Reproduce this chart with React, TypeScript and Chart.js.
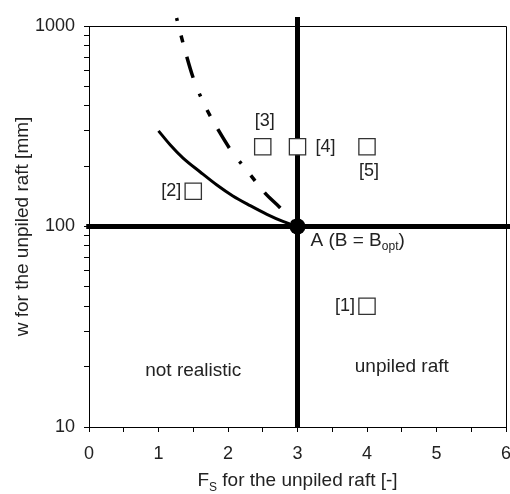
import { useEffect, useRef } from "react";
import { Chart, registerables } from "chart.js";

Chart.register(...registerables);

// Limit curves in the (F_S, w) plane
const solidX = [1.0, 1.17, 1.35, 1.6, 1.84, 2.07, 2.32, 2.56, 2.79, 3.0];
const solidY = [300, 255, 220, 187, 161, 142, 127, 115, 106, 100];
const dashDotX = [1.26, 1.38, 1.5, 1.67, 1.86, 2.06, 2.29, 2.53, 2.75, 3.0];
const dashDotY = [1096, 759, 550, 399, 303, 235, 187, 147, 124, 100];

// Cases [1]..[5]
const caseX = [4, 1.5, 2.5, 3, 4];
const caseY = [40, 150, 250, 250, 250];
const caseLabels = ["[1]", "[2]", "[3]", "[4]", "[5]"];
const caseLabelSide = ["left", "left", "above", "right", "below"];

// Optimum point A and the two reference lines through it
const optimumX = 3;
const optimumY = 100;

// Region captions
const regionNames = ["not realistic", "unpiled raft"];
const regionX = [1.5, 4.5];
const regionY = [19, 20];

// Axes
const xMin = 0;
const xMax = 6;
const yMin = 10;
const yMax = 1000;
const yMinorTicks = [10, 20, 30, 40, 50, 60, 70, 80, 90, 100, 200, 300, 400, 500, 600, 700, 800, 900, 1000];
const yTickLabels = [10, 100, 1000];

const FONT = "'Liberation Sans', Arial, Helvetica, sans-serif";
const TEXT = "#222";

type Part = [string, boolean?];

function drawRich(ctx: CanvasRenderingContext2D, parts: Part[], x: number, y: number, size: number, align: "left" | "center" | "right") {
  const subSize = Math.round(size * 0.65);
  const widths = parts.map(([t, sub]) => {
    ctx.font = `${sub ? subSize : size}px ${FONT}`;
    return ctx.measureText(t).width;
  });
  const total = widths.reduce((a, b) => a + b, 0);
  let cx = align === "left" ? x : align === "center" ? x - total / 2 : x - total;
  ctx.textAlign = "left";
  ctx.textBaseline = "middle";
  parts.forEach(([t, sub], i) => {
    ctx.font = `${sub ? subSize : size}px ${FONT}`;
    ctx.fillText(t, cx, sub ? y + size * 0.35 : y);
    cx += widths[i];
  });
}

const frameAndText = {
  id: "frameAndText",
  beforeDatasetsDraw(chart: any) {
    const { ctx, chartArea } = chart;
    ctx.save();
    ctx.strokeStyle = "#000";
    ctx.lineWidth = 1;
    ctx.beginPath();
    ctx.moveTo(chartArea.left, chartArea.top + 0.5);
    ctx.lineTo(chartArea.right + 0.5, chartArea.top + 0.5);
    ctx.lineTo(chartArea.right + 0.5, chartArea.bottom);
    ctx.stroke();
    ctx.restore();
  },
  afterDatasetsDraw(chart: any) {
    const { ctx, chartArea } = chart;
    const xs = chart.scales.x;
    const ys = chart.scales.y;
    ctx.save();
    ctx.fillStyle = TEXT;

    // region captions
    regionNames.forEach((name, i) => {
      drawRich(ctx, [[name]], xs.getPixelForValue(regionX[i]), ys.getPixelForValue(regionY[i]), 19, "center");
    });

    // case labels next to the squares
    caseLabels.forEach((lab, i) => {
      const px = xs.getPixelForValue(caseX[i]);
      const py = ys.getPixelForValue(caseY[i]);
      const side = caseLabelSide[i];
      if (side === "left") drawRich(ctx, [[lab]], px - 12, py, 18, "right");
      else if (side === "right") drawRich(ctx, [[lab]], px + 18, py, 18, "left");
      else if (side === "above") drawRich(ctx, [[lab]], px + 2, py - 26, 18, "center");
      else drawRich(ctx, [[lab]], px + 2, py + 24, 18, "center");
    });

    // optimum label
    const ax = xs.getPixelForValue(optimumX);
    const ay = ys.getPixelForValue(optimumY);
    drawRich(ctx, [["A (B = B"], ["opt", true], [")"]], ax + 13, ay + 14, 19, "left");

    // axis titles
    const cxMid = (chartArea.left + chartArea.right) / 2;
    drawRich(ctx, [["F"], ["S", true], [" for the unpiled raft [-]"]], cxMid, chartArea.bottom + 54, 19, "center");

    const cyMid = (chartArea.top + chartArea.bottom) / 2;
    ctx.translate(23, cyMid);
    ctx.rotate(-Math.PI / 2);
    drawRich(ctx, [["w for the unpiled raft [mm]"]], 0, 0, 19, "center");
    ctx.restore();
  },
};

export default function App() {
  const canvasRef = useRef<HTMLCanvasElement | null>(null);

  useEffect(() => {
    const canvas = canvasRef.current;
    if (!canvas) return;

    const toPoints = (xs: number[], ys: number[]) => xs.map((x, i) => ({ x, y: ys[i] }));

    const chart = new Chart(canvas, {
      type: "scatter",
      data: {
        datasets: [
          {
            data: toPoints(caseX, caseY),
            pointStyle: "rect",
            pointRadius: 11.5,
            pointHoverRadius: 11.5,
            backgroundColor: "#fff",
            borderColor: "#333",
            borderWidth: 1.3,
            order: 0,
          },
          {
            data: [{ x: optimumX, y: optimumY }],
            pointRadius: 8,
            pointHoverRadius: 8,
            backgroundColor: "#000",
            borderColor: "#000",
            borderWidth: 0,
            order: 1,
          },
          {
            data: toPoints(solidX, solidY),
            showLine: true,
            borderColor: "#000",
            borderWidth: 3,
            pointRadius: 0,
            pointHoverRadius: 0,
            cubicInterpolationMode: "monotone",
            order: 2,
          },
          {
            data: toPoints(dashDotX, dashDotY),
            showLine: true,
            borderColor: "#000",
            borderWidth: 3.5,
            borderDash: [3, 15, 7, 15, 22, 17],
            pointRadius: 0,
            pointHoverRadius: 0,
            cubicInterpolationMode: "monotone",
            clip: false,
            order: 2,
          },
          {
            // horizontal reference line w = 100 mm
            data: [
              { x: -0.04, y: optimumY },
              { x: 6.1, y: optimumY },
            ],
            showLine: true,
            borderColor: "#000",
            borderWidth: 5,
            pointRadius: 0,
            pointHoverRadius: 0,
            clip: false,
            order: 3,
          },
          {
            // vertical reference line F_S = 3
            data: [
              { x: optimumX, y: yMin },
              { x: optimumX, y: 1110 },
            ],
            showLine: true,
            borderColor: "#000",
            borderWidth: 5,
            pointRadius: 0,
            pointHoverRadius: 0,
            clip: false,
            order: 3,
          },
        ],
      },
      options: {
        responsive: false,
        animation: false,
        events: [],
        layout: { autoPadding: false, padding: { top: 26, right: 4, left: 0, bottom: 0 } },
        plugins: {
          legend: { display: false },
          tooltip: { enabled: false },
        },
        scales: {
          x: {
            type: "linear",
            min: xMin,
            max: xMax,
            afterFit(scale: any) {
              scale.height = 67;
              scale.paddingLeft = 0;
              scale.paddingRight = 0;
            },
            ticks: {
              stepSize: 0.5,
              autoSkip: false,
              maxRotation: 0,
              padding: 11,
              color: TEXT,
              font: { family: FONT, size: 18 },
              callback: (v: any) => (Number.isInteger(v) ? String(v) : ""),
            },
            grid: {
              drawOnChartArea: false,
              drawTicks: true,
              tickLength: 5,
              tickColor: "#000",
              tickWidth: 1,
            },
            border: { display: true, color: "#000", width: 1 },
          },
          y: {
            type: "logarithmic",
            min: yMin,
            max: yMax,
            afterFit(scale: any) {
              scale.width = 89;
              scale.paddingTop = 0;
              scale.paddingBottom = 0;
            },
            afterBuildTicks(scale: any) {
              scale.ticks = yMinorTicks.map((value) => ({ value }));
            },
            ticks: {
              autoSkip: false,
              padding: 9,
              color: TEXT,
              font: { family: FONT, size: 18 },
              callback: (v: any) => (yTickLabels.includes(Number(v)) ? String(v) : ""),
            },
            grid: {
              drawOnChartArea: false,
              drawTicks: true,
              tickLength: 5,
              tickColor: "#000",
              tickWidth: 1,
            },
            border: { display: true, color: "#000", width: 1 },
          },
        },
      },
      plugins: [frameAndText],
    } as any);

    return () => chart.destroy();
  }, []);

  return (
    <div style={{ position: "absolute", left: 0, top: 0, width: 510, height: 494, background: "#fff" }}>
      <canvas ref={canvasRef} width={510} height={494} />
    </div>
  );
}
